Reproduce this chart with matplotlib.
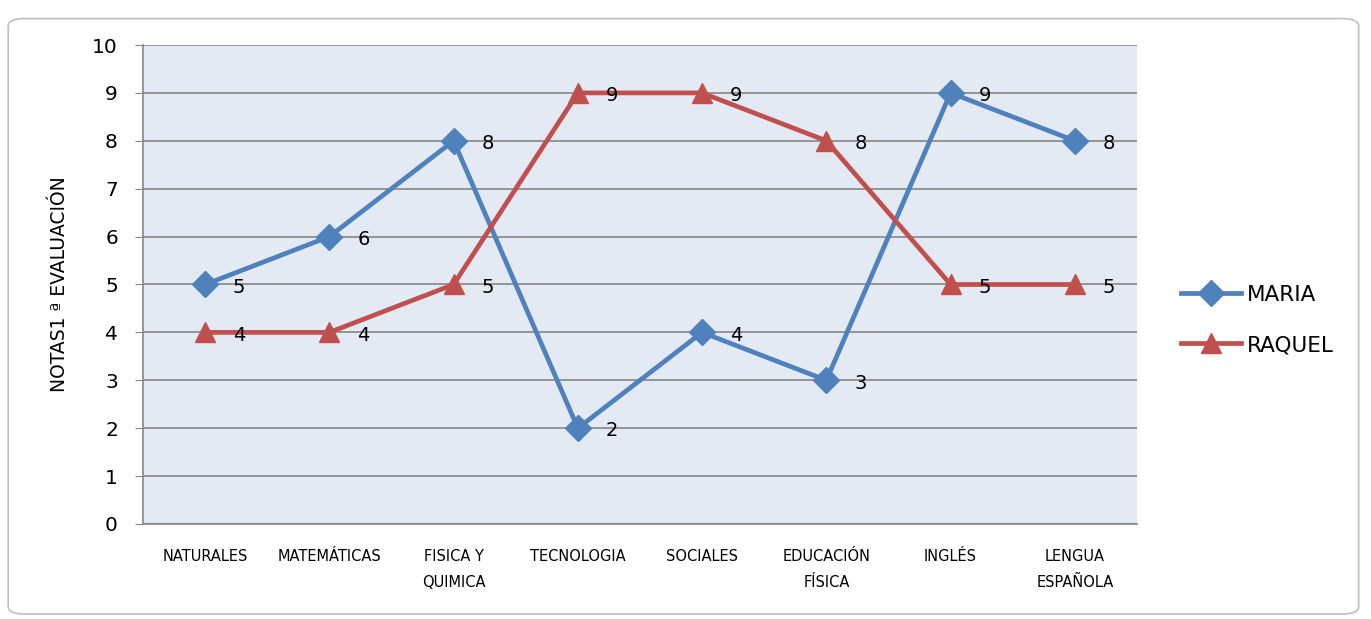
import matplotlib.pyplot as plt
from matplotlib.patches import FancyBboxPatch
import numpy as np

materias = ["NATURALES", "MATEMÁTICAS", "FISICA Y\nQUIMICA", "TECNOLOGIA", "SOCIALES",
            "EDUCACIÓN\nFÍSICA", "INGLÉS", "LENGUA\nESPAÑOLA"]
maria = [5, 6, 8, 2, 4, 3, 9, 8]
raquel = [4, 4, 5, 9, 9, 8, 5, 5]

azul = '#4F81BD'
rojo = '#C0504D'

fig = plt.figure(figsize=(13.71, 6.19), dpi=100)

# chart frame with rounded corners, drawn behind the axes
marco = FancyBboxPatch((0.006, 0.008), 0.985, 0.962, boxstyle="round,pad=0,rounding_size=0.012",
                       transform=fig.transFigure, facecolor='white', edgecolor='#BFBFBF', lw=1.2,
                       zorder=-10)
fig.patches.append(marco)

ax = fig.add_axes([0.1043, 0.1535, 0.725, 0.7738])
ax.set_facecolor('#E4EAF4')

x = np.arange(len(materias))
ax.plot(x, maria, color=azul, lw=3.4, marker='D', ms=13, label='MARIA', zorder=3)
ax.plot(x, raquel, color=rojo, lw=3.4, marker='^', ms=15, label='RAQUEL', zorder=3)

for xi, m, r in zip(x, maria, raquel):
    ax.annotate(str(m), (xi, m), xytext=(20, -2), textcoords='offset points',
                va='center', ha='left', fontsize=14)
    ax.annotate(str(r), (xi, r), xytext=(20, -2), textcoords='offset points',
                va='center', ha='left', fontsize=14)

ax.set_xlim(-0.5, 7.5)
ax.set_ylim(0, 10)
ax.set_yticks(range(0, 11))
ax.yaxis.grid(True, color='#868686', lw=1.2)
ax.set_axisbelow(True)
ax.tick_params(axis='y', labelsize=14.5, length=6, color='#868686', pad=12)
ax.set_xticks(x)
ax.set_xticklabels(materias, fontsize=10.5, family=['Liberation Sans Narrow', 'DejaVu Sans'],
                   linespacing=1.9)
ax.tick_params(axis='x', length=0, pad=18)

for s in ['top', 'right']:
    ax.spines[s].set_visible(False)
ax.spines['left'].set_color('#868686')
ax.spines['bottom'].set_color('#868686')
ax.spines['left'].set_linewidth(1.2)
ax.spines['bottom'].set_linewidth(1.2)

ax.set_ylabel('NOTAS1 ª EVALUACIÓN', fontsize=13.5, labelpad=17)

ax.legend(loc='center left', bbox_to_anchor=(1.025, 0.426), frameon=False, fontsize=15.5,
          handlelength=2.8, labelspacing=1.4, handletextpad=0.25)

fig.savefig('out.png', dpi=100)
